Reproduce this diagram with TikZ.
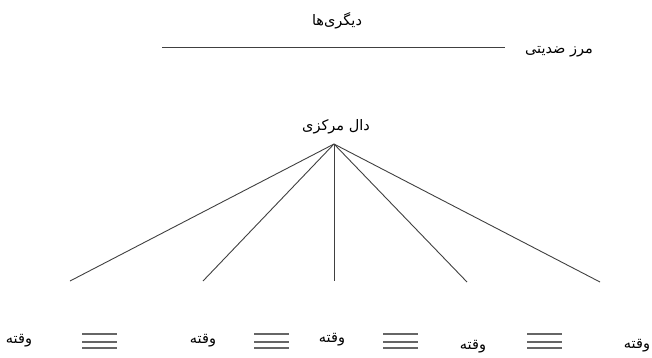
\documentclass[tikz,border=0pt]{standalone}
\usepackage{fontspec}
\newfontfamily\arabicfont[Script=Arabic]{DejaVu Sans}
\TeXXeTstate=1
\begin{document}
\begin{tikzpicture}[x=1pt,y=1pt,
  lbl/.style={inner sep=0pt,font=\arabicfont\fontsize{14.5}{16}\selectfont},
  ln/.style={draw=black!75,line width=0.9pt},
  eqln/.style={draw=black!60,line width=1.1pt}]
\useasboundingbox (0,0) rectangle (652,-357);
% top
\node[lbl] (others) at (337,-21) {\beginR دیگری‌ها\endR};
\coordinate (bl) at (162,-47);
\coordinate (br) at (505,-47);
\draw[ln] (bl) -- (br);
\node[lbl] (border) at (559,-52) {\beginR مرز ضدیتی\endR};
% central signifier
\node[lbl] (center) at (336,-127) {\beginR دال مرکزی\endR};
\coordinate (apex) at (334,-144);
\coordinate (e1) at (70,-281);
\coordinate (e2) at (203,-281);
\coordinate (e3) at (334,-281);
\coordinate (e4) at (467,-282);
\coordinate (e5) at (600,-282);
\foreach \e in {e1,e2,e3,e4,e5} \draw[ln] (apex) -- (\e);
% moments
\node[lbl] (m1) at (19,-341) {\beginR وقته\endR};
\node[lbl] (m2) at (203,-341) {\beginR وقته\endR};
\node[lbl] (m3) at (332,-340) {\beginR وقته\endR};
\node[lbl] (m4) at (473,-347) {\beginR وقته\endR};
\node[lbl] (m5) at (637,-346) {\beginR وقته\endR};
% equivalence signs
\foreach \xa in {82,254,383,527} {
  \draw[eqln] (\xa,-334) -- ++(35,0);
  \draw[eqln] (\xa,-342) -- ++(35,0);
  \draw[eqln] (\xa,-348) -- ++(35,0);
}
\end{tikzpicture}
\end{document}
